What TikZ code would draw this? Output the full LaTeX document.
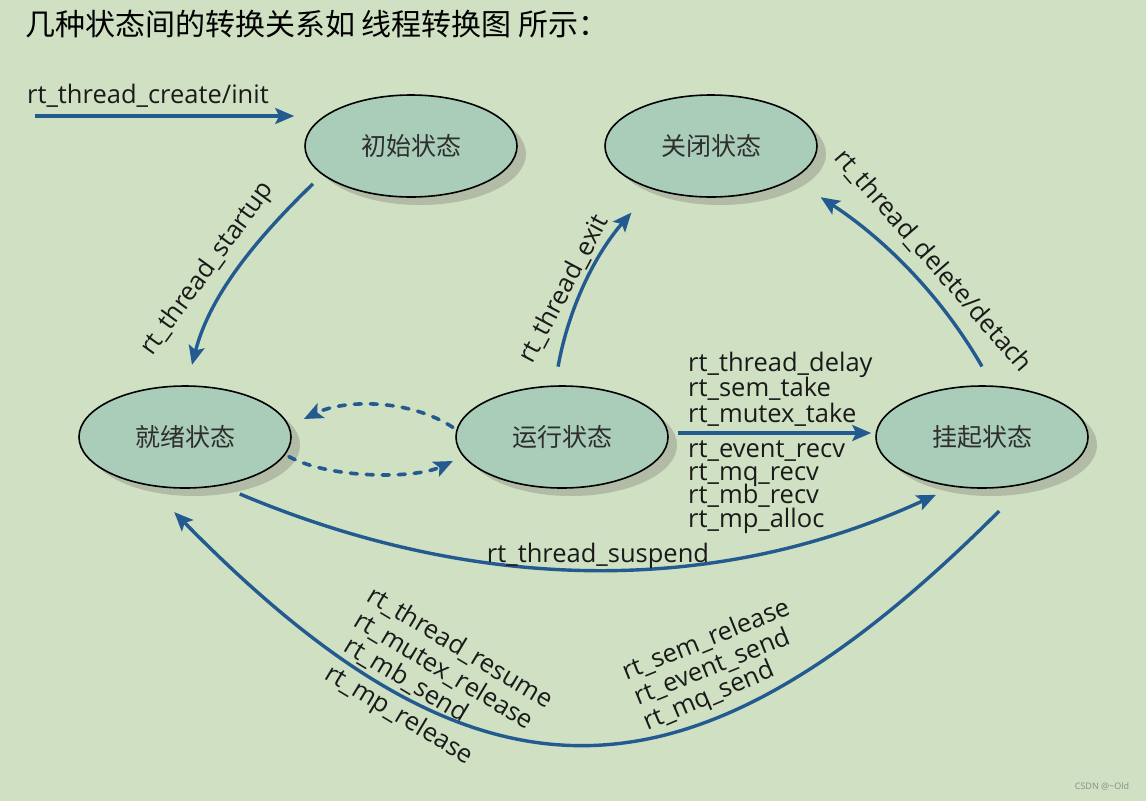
\documentclass[tikz,border=0pt]{standalone}
\usepackage{fontspec}
\setmainfont{Open Sans}
\newfontfamily\cjk{Noto Sans CJK SC}
\usetikzlibrary{arrows.meta,shapes.geometric,shadows,calc}
\definecolor{bg}{HTML}{CFE0C3}
\definecolor{ellfill}{HTML}{A9CDB9}
\definecolor{shadowc}{HTML}{B1BBA5}
\definecolor{arrowc}{HTML}{235A8F}
\definecolor{nodetext}{HTML}{2E2E2E}
\definecolor{labeltext}{HTML}{1A1A1A}
\begin{document}
\begin{tikzpicture}[x=1pt,y=-1pt,
  state/.style={ellipse, draw=black, line width=1.6pt, fill=ellfill,
    minimum width=212pt, minimum height=102pt, inner sep=0pt,
    font=\cjk\fontsize{25}{25}\selectfont, text=nodetext,
    drop shadow={shadow xshift=9pt, shadow yshift=-8pt, fill=shadowc, opacity=1}},
  arr/.style={draw=arrowc, line width=3.4pt, -{Stealth[length=19pt,width=16pt,inset=4pt]}},
  dasharr/.style={arr, line width=3.6pt, dash pattern=on 7pt off 9pt, line cap=round},
  lbl/.style={font=\fontsize{25.5}{27}\selectfont, text=labeltext, inner sep=0pt},
]
\fill[bg] (0,0) rectangle (1146,801);
\useasboundingbox (0,0) rectangle (1146,801);

\node[anchor=west, inner sep=0pt, font=\cjk\fontsize{30}{30}\selectfont, text=black] (title) at (25,24) {几种状态间的转换关系如 线程转换图 所示：};

\node[state] (init) at (411,146) {初始状态};
\node[state] (closed) at (711,146) {关闭状态};
\node[state] (ready) at (185,437) {就绪状态};
\node[state] (run) at (562,437) {运行状态};
\node[state] (susp) at (982,437) {挂起状态};

% connectors
\coordinate (cstart) at (35,116);
\draw[arr] (cstart) -- ($(init.west|-cstart)+(-10,0)$);
\draw[arr, shorten <=13pt, shorten >=21pt] (init.198) .. controls (259,236) and (210,294) .. (ready.88);
\draw[arr, shorten <=19pt, shorten >=31pt] (run.98) .. controls (568,311) and (593,257) .. (closed.216);
\draw[arr, shorten <=22pt, shorten >=33pt] (susp.78) .. controls (942,297) and (886,240) .. (closed.338);
\draw[dasharr, shorten <=4pt, shorten >=16pt] (run.176) .. controls (410,399) and (345,399) .. (ready.6);
\draw[dasharr, shorten <=4pt, shorten >=11pt] (ready.350) .. controls (330,479) and (415,479) .. (run.191);
\draw[arr] ([xshift=9pt,yshift=4pt]run.east) -- ([xshift=-4pt,yshift=4pt]susp.west);
\draw[arr, shorten <=21pt, shorten >=19pt] (ready.306) .. controls (468,590) and (707,600) .. (susp.240);
\draw[arr, shorten <=38pt, shorten >=37pt] (susp.313) .. controls (688,822) and (478,822) .. (ready.233);

% labels
\node[lbl] (lcreate) at (148,96) {rt\_thread\_create/init};
\node[lbl, rotate=54] (lstartup) at (208,269) {rt\_thread\_startup};
\node[lbl, rotate=62] (lexit) at (564,289) {rt\_thread\_exit};
\node[lbl, rotate=-49] (ldelete) at (933,261) {rt\_thread\_delete/detach};

\node[lbl, anchor=base west] (l1) at (688,371) {rt\_thread\_delay};
\node[lbl, anchor=base west] (l2) at (688,396.5) {rt\_sem\_take};
\node[lbl, anchor=base west] (l3) at (688,422) {rt\_mutex\_take};
\node[lbl, anchor=base west] (l4) at (688,457) {rt\_event\_recv};
\node[lbl, anchor=base west] (l5) at (688,480.5) {rt\_mq\_recv};
\node[lbl, anchor=base west] (l6) at (688,503.5) {rt\_mb\_recv};
\node[lbl, anchor=base west] (l7) at (688,527) {rt\_mp\_alloc};

\node[lbl] (lsuspend) at (598,556) {rt\_thread\_suspend};

\node[lbl, rotate=-31] (r1) at (460,648) {rt\_thread\_resume};
\node[lbl, rotate=-31] (r2) at (444,671) {rt\_mutex\_release};
\node[lbl, rotate=-31] (r3) at (406,680) {rt\_mb\_send};
\node[lbl, rotate=-31] (r4) at (399,716) {rt\_mp\_release};

\node[lbl, rotate=22] (s1) at (706,640) {rt\_sem\_release};
\node[lbl, rotate=22] (s2) at (712,667) {rt\_event\_send};
\node[lbl, rotate=23] (s3) at (709,697) {rt\_mq\_send};

\node[font=\fontsize{9}{9}\selectfont, text=black!45, inner sep=0pt] (wm) at (1102,786) {CSDN @\textasciitilde Old};
\end{tikzpicture}
\end{document}
